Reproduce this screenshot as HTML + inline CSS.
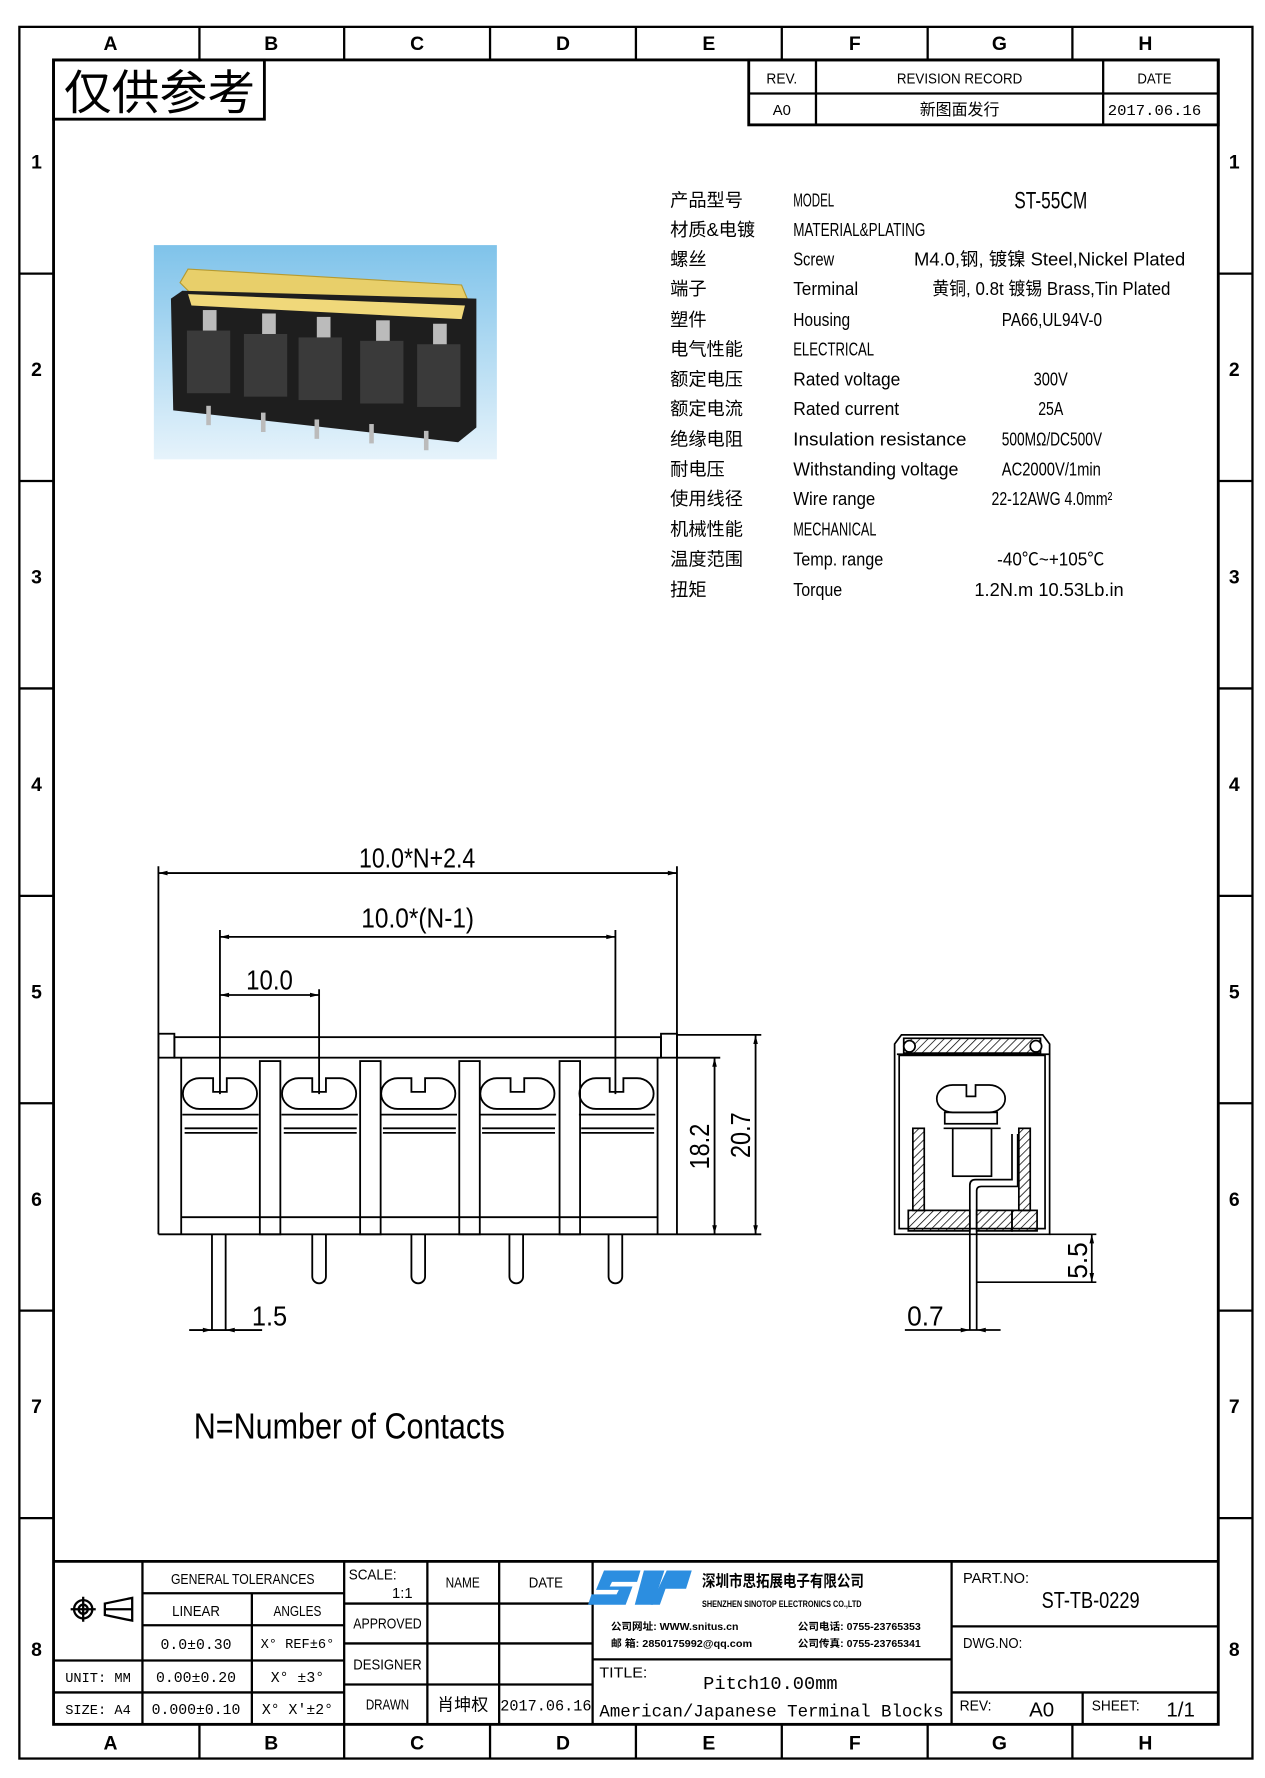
<!DOCTYPE html>
<html><head><meta charset="utf-8"><style>
html,body{margin:0;padding:0;background:#fff;}
svg{display:block;}
text{font-family:"Liberation Sans Narrow","Liberation Sans","Noto Sans CJK SC",sans-serif;fill:#000;}
.m{font-family:"Liberation Mono","Noto Sans CJK SC",monospace;}
.b{font-weight:bold;}
</style></head><body>
<svg width="1265" height="1778" viewBox="0 0 1110 1560" xmlns="http://www.w3.org/2000/svg">
<defs>
<pattern id="h" width="5" height="5" patternUnits="userSpaceOnUse" patternTransform="rotate(45)"><line x1="0" y1="0" x2="0" y2="5" stroke="#000" stroke-width="1.3"/></pattern>
<linearGradient id="bg" x1="0" y1="0" x2="0" y2="1"><stop offset="0" stop-color="#7fc3ea"/><stop offset="1" stop-color="#e6f3fb"/></linearGradient>
</defs>
<g fill="none" stroke="#000">
<rect x="17" y="23.5" width="1082" height="1519.5" stroke-width="2"/>
<rect x="47" y="52.5" width="1022" height="1460.5" stroke-width="2.5"/>
<g stroke-width="2">
<line x1="175" y1="23.5" x2="175" y2="52.5"/><line x1="302" y1="23.5" x2="302" y2="52.5"/><line x1="430" y1="23.5" x2="430" y2="52.5"/><line x1="558" y1="23.5" x2="558" y2="52.5"/><line x1="686" y1="23.5" x2="686" y2="52.5"/><line x1="814" y1="23.5" x2="814" y2="52.5"/><line x1="941" y1="23.5" x2="941" y2="52.5"/>
<line x1="175" y1="1513" x2="175" y2="1543"/><line x1="302" y1="1513" x2="302" y2="1543"/><line x1="430" y1="1513" x2="430" y2="1543"/><line x1="558" y1="1513" x2="558" y2="1543"/><line x1="686" y1="1513" x2="686" y2="1543"/><line x1="814" y1="1513" x2="814" y2="1543"/><line x1="941" y1="1513" x2="941" y2="1543"/>
<line x1="17" y1="240" x2="47" y2="240"/><line x1="17" y1="422" x2="47" y2="422"/><line x1="17" y1="604" x2="47" y2="604"/><line x1="17" y1="786" x2="47" y2="786"/><line x1="17" y1="968" x2="47" y2="968"/><line x1="17" y1="1150" x2="47" y2="1150"/><line x1="17" y1="1332" x2="47" y2="1332"/>
<line x1="1069" y1="240" x2="1099" y2="240"/><line x1="1069" y1="422" x2="1099" y2="422"/><line x1="1069" y1="604" x2="1099" y2="604"/><line x1="1069" y1="786" x2="1099" y2="786"/><line x1="1069" y1="968" x2="1099" y2="968"/><line x1="1069" y1="1150" x2="1099" y2="1150"/><line x1="1069" y1="1332" x2="1099" y2="1332"/>
</g>
<rect x="47" y="52.5" width="185" height="52" stroke-width="2.5"/>
<rect x="657" y="52.5" width="412" height="57" stroke-width="2.5"/>
<line x1="657" y1="82" x2="1069" y2="82" stroke-width="2"/>
<line x1="716" y1="52.5" x2="716" y2="109.5" stroke-width="2"/>
<line x1="968" y1="52.5" x2="968" y2="109.5" stroke-width="2"/>
</g>
<g class="b" font-size="17" text-anchor="middle">
<text x="97" y="44">A</text><text x="238" y="44">B</text><text x="366" y="44">C</text><text x="494" y="44">D</text><text x="622" y="44">E</text><text x="750" y="44">F</text><text x="877" y="44">G</text><text x="1005" y="44">H</text>
<text x="97" y="1535">A</text><text x="238" y="1535">B</text><text x="366" y="1535">C</text><text x="494" y="1535">D</text><text x="622" y="1535">E</text><text x="750" y="1535">F</text><text x="877" y="1535">G</text><text x="1005" y="1535">H</text>
<text x="32" y="148">1</text><text x="32" y="330">2</text><text x="32" y="512">3</text><text x="32" y="694">4</text><text x="32" y="876">5</text><text x="32" y="1058">6</text><text x="32" y="1240">7</text><text x="32" y="1453">8</text>
<text x="1083" y="148">1</text><text x="1083" y="330">2</text><text x="1083" y="512">3</text><text x="1083" y="694">4</text><text x="1083" y="876">5</text><text x="1083" y="1058">6</text><text x="1083" y="1240">7</text><text x="1083" y="1453">8</text>
</g>
<text x="140" y="96" font-size="42" text-anchor="middle" style="font-family:'Noto Sans CJK SC',sans-serif">仅供参考</text>
<g font-size="13" text-anchor="middle">
<text x="686" y="73" textLength="27" lengthAdjust="spacingAndGlyphs">REV.</text><text x="842" y="73" textLength="110" lengthAdjust="spacingAndGlyphs">REVISION RECORD</text><text x="1013" y="73" textLength="30" lengthAdjust="spacingAndGlyphs">DATE</text>
<text x="686" y="101">A0</text><text x="842" y="101" font-size="14">新图面发行</text><text x="1013" y="101" class="m" font-size="13" textLength="82" lengthAdjust="spacingAndGlyphs">2017.06.16</text>
</g>
<!-- photo -->
<rect x="135" y="215" width="301" height="188" fill="url(#bg)"/>
<path d="M158 248 L165 236 L405 250 L410 262 L168 258 Z" fill="#e8cf6a" stroke="#b59a30"/>
<path d="M150 262 L160 255 L418 262 L418 375 L402 388 L152 360 Z" fill="#1e1e1e"/>
<path d="M165 258 L408 268 L405 280 L168 268 Z" fill="#f0d87a"/>
<g fill="#3a3a3a"><rect x="164" y="290" width="38" height="55"/><rect x="214" y="293" width="38" height="55"/><rect x="262" y="296" width="38" height="55"/><rect x="316" y="299" width="38" height="55"/><rect x="366" y="302" width="38" height="55"/></g>
<g fill="#bbb"><rect x="178" y="272" width="12" height="18"/><rect x="230" y="275" width="12" height="18"/><rect x="278" y="278" width="12" height="18"/><rect x="330" y="281" width="12" height="18"/><rect x="380" y="284" width="12" height="18"/>
<rect x="181" y="356" width="4" height="17"/><rect x="229" y="362" width="4" height="17"/><rect x="276" y="368" width="4" height="17"/><rect x="324" y="372" width="4" height="17"/><rect x="372" y="378" width="4" height="17"/></g>
<!-- spec -->
<g font-size="16" lengthAdjust="spacingAndGlyphs">
<g style="font-family:'Noto Sans CJK SC',sans-serif" font-size="16">
<text x="588" y="181">产品型号</text><text x="588" y="207">材质&amp;电镀</text><text x="588" y="233">螺丝</text><text x="588" y="259">端子</text><text x="588" y="286">塑件</text><text x="588" y="312">电气性能</text><text x="588" y="338">额定电压</text><text x="588" y="364">额定电流</text><text x="588" y="391">绝缘电阻</text><text x="588" y="417">耐电压</text><text x="588" y="443">使用线径</text><text x="588" y="470">机械性能</text><text x="588" y="496">温度范围</text><text x="588" y="523">扭矩</text>
</g>
<text x="696" y="181" textLength="36" lengthAdjust="spacingAndGlyphs">MODEL</text>
<text x="696" y="207" textLength="116" lengthAdjust="spacingAndGlyphs">MATERIAL&amp;PLATING</text>
<text x="696" y="233" textLength="36" lengthAdjust="spacingAndGlyphs">Screw</text>
<text x="696" y="259" textLength="57" lengthAdjust="spacingAndGlyphs">Terminal</text>
<text x="696" y="286" textLength="50" lengthAdjust="spacingAndGlyphs">Housing</text>
<text x="696" y="312" textLength="71" lengthAdjust="spacingAndGlyphs">ELECTRICAL</text>
<text x="696" y="338" textLength="94" lengthAdjust="spacingAndGlyphs">Rated voltage</text>
<text x="696" y="364" textLength="93" lengthAdjust="spacingAndGlyphs">Rated current</text>
<text x="696" y="391" textLength="152" lengthAdjust="spacingAndGlyphs">Insulation resistance</text>
<text x="696" y="417" textLength="145" lengthAdjust="spacingAndGlyphs">Withstanding voltage</text>
<text x="696" y="443" textLength="72" lengthAdjust="spacingAndGlyphs">Wire range</text>
<text x="696" y="470" textLength="73" lengthAdjust="spacingAndGlyphs">MECHANICAL</text>
<text x="696" y="496" textLength="79" lengthAdjust="spacingAndGlyphs">Temp. range</text>
<text x="696" y="523" textLength="43" lengthAdjust="spacingAndGlyphs">Torque</text>
<text x="890" y="183" font-size="21" textLength="64" lengthAdjust="spacingAndGlyphs">ST-55CM</text>
<text x="802" y="233" textLength="238" lengthAdjust="spacingAndGlyphs">M4.0,钢, 镀镍 Steel,Nickel Plated</text>
<text x="818" y="259" textLength="209" lengthAdjust="spacingAndGlyphs">黄铜, 0.8t 镀锡 Brass,Tin Plated</text>
<text x="879" y="286" textLength="88" lengthAdjust="spacingAndGlyphs">PA66,UL94V-0</text>
<text x="907" y="338" textLength="30" lengthAdjust="spacingAndGlyphs">300V</text>
<text x="911" y="364" textLength="22" lengthAdjust="spacingAndGlyphs">25A</text>
<text x="879" y="391" textLength="88" lengthAdjust="spacingAndGlyphs">500MΩ/DC500V</text>
<text x="879" y="417" textLength="87" lengthAdjust="spacingAndGlyphs">AC2000V/1min</text>
<text x="870" y="443" textLength="106" lengthAdjust="spacingAndGlyphs">22-12AWG 4.0mm²</text>
<text x="875" y="496" textLength="94" lengthAdjust="spacingAndGlyphs">-40℃~+105℃</text>
<text x="855" y="523" textLength="131" lengthAdjust="spacingAndGlyphs">1.2N.m  10.53Lb.in</text>
</g>
<!-- front view -->
<g fill="none" stroke="#000" stroke-width="1.6">
<line x1="139" y1="760" x2="139" y2="1083"/><line x1="594" y1="760" x2="594" y2="1083"/>
<line x1="139" y1="766" x2="594" y2="766"/>
<line x1="193" y1="816" x2="193" y2="960"/><line x1="540" y1="816" x2="540" y2="960"/>
<line x1="193" y1="822" x2="540" y2="822"/>
<line x1="280" y1="868" x2="280" y2="960"/><line x1="193" y1="873" x2="280" y2="873"/>
<rect x="153" y="910" width="427" height="18"/>
<rect x="139" y="907" width="14" height="21"/><rect x="580" y="907" width="14" height="21"/>
<line x1="139" y1="1083" x2="594" y2="1083"/>
<line x1="159" y1="1068" x2="577" y2="1068"/>
<path d="M159 928 V1083 M577 928 V1083"/>
<rect x="228" y="931" width="18" height="152"/><rect x="316" y="931" width="18" height="152"/><rect x="403" y="931" width="18" height="152"/><rect x="491" y="931" width="18" height="152"/>
<g id="cell">
<path d="M175 946 h12 v12 h12 v-12 h12 a14 13 0 0 1 0 27 h-36 a14 13 0 0 1 0 -27 z"/>
<line x1="160" y1="978" x2="227" y2="978"/><line x1="162" y1="990" x2="226" y2="990"/>
<line x1="162" y1="994" x2="226" y2="994"/>
</g>
<use href="#cell" x="87"/><use href="#cell" x="174"/><use href="#cell" x="261"/><use href="#cell" x="348"/>
<path d="M186 1083 V1167 M198 1083 V1167"/>
<path d="M274 1083 V1120 a6 6 0 0 0 12 0 V1083"/><path d="M361 1083 V1120 a6 6 0 0 0 12 0 V1083"/><path d="M447 1083 V1120 a6 6 0 0 0 12 0 V1083"/><path d="M534 1083 V1120 a6 6 0 0 0 12 0 V1083"/>
<line x1="166" y1="1167" x2="230" y2="1167"/>
<line x1="594" y1="908" x2="668" y2="908"/><line x1="594" y1="928" x2="632" y2="928"/><line x1="594" y1="1083" x2="668" y2="1083"/>
<line x1="627" y1="928" x2="627" y2="1083"/><line x1="663" y1="908" x2="663" y2="1083"/>
</g>
<g fill="#000">
<path d="M139 766 l8 -2 v4z M594 766 l-8 -2 v4z M193 822 l8 -2 v4z M540 822 l-8 -2 v4z M193 873 l8 -2 v4z M280 873 l-8 -2 v4z"/>
<path d="M627 928 l-2 8 h4z M627 1083 l-2 -8 h4z M663 908 l-2 8 h4z M663 1083 l-2 -8 h4z"/>
<path d="M186 1167 l-8 -2 v4z M198 1167 l8 -2 v4z"/>
</g>
<g font-size="24">
<text x="315" y="761" textLength="102" lengthAdjust="spacingAndGlyphs">10.0*N+2.4</text>
<text x="317" y="814" textLength="99" lengthAdjust="spacingAndGlyphs">10.0*(N-1)</text>
<text x="216" y="868" textLength="41" lengthAdjust="spacingAndGlyphs">10.0</text>
<text x="221" y="1163" textLength="31" lengthAdjust="spacingAndGlyphs">1.5</text>
<text x="796" y="1163" textLength="32" lengthAdjust="spacingAndGlyphs">0.7</text>
<text x="622" y="1026" transform="rotate(-90 622 1026)" textLength="40" lengthAdjust="spacingAndGlyphs">18.2</text>
<text x="658" y="1016" transform="rotate(-90 658 1016)" textLength="40" lengthAdjust="spacingAndGlyphs">20.7</text>
<text x="954" y="1122" transform="rotate(-90 954 1122)" textLength="32" lengthAdjust="spacingAndGlyphs">5.5</text>
</g>
<text x="170" y="1262" font-size="32" textLength="273" lengthAdjust="spacingAndGlyphs">N=Number of Contacts</text>
<!-- side view -->
<g fill="none" stroke="#000" stroke-width="1.5">
<path d="M785 1083 V916 l6 -8 h124 l6 8 V1083 Z"/>
<rect x="789" y="926" width="128" height="152"/>
<path d="M787 925 h134" />
<rect x="793" y="911" width="120" height="13" fill="url(#h)"/>
<circle cx="798" cy="918" r="5" fill="#fff"/><circle cx="909" cy="918" r="5" fill="#fff"/>
<path d="M836 952 h12 v10 h8 v-10 h12 a14 12 0 0 1 0 24 h-32 a14 12 0 0 1 0 -24 z"/>
<rect x="829" y="976" width="46" height="10"/>
<rect x="801" y="990" width="10" height="72" fill="url(#h)"/><rect x="894" y="990" width="10" height="72" fill="url(#h)"/>
<rect x="797" y="1062" width="54" height="18" fill="url(#h)"/><rect x="857" y="1062" width="31" height="18" fill="url(#h)"/><rect x="888" y="1062" width="22" height="18" fill="url(#h)"/>
<rect x="836" y="990" width="34" height="42"/><path d="M828 990 h50"/>
<path d="M851 1167 V1040 q0 -5 5 -5 h32 v-40 M857 1167 V1045 q0 -4 4 -4 h32 v-46"/>
<line x1="921" y1="1083" x2="962" y2="1083"/><line x1="857" y1="1125" x2="962" y2="1125"/>
<line x1="958" y1="1083" x2="958" y2="1125"/>
<line x1="794" y1="1167" x2="878" y2="1167"/>
</g>
<path d="M958 1083 l-2 8 h4z M958 1125 l-2 -8 h4z M851 1167 l-8 -2 v4z M857 1167 l8 -2 v4z" fill="#000"/>
<!-- title block -->
<g fill="none" stroke="#000" stroke-width="2">
<line x1="47" y1="1370" x2="1069" y2="1370" stroke-width="2.5"/>
<line x1="125" y1="1370" x2="125" y2="1513"/><line x1="302" y1="1370" x2="302" y2="1513"/><line x1="375" y1="1370" x2="375" y2="1513"/><line x1="438" y1="1370" x2="438" y2="1513"/><line x1="520" y1="1370" x2="520" y2="1513"/><line x1="835" y1="1370" x2="835" y2="1513"/>
<line x1="125" y1="1398" x2="302" y2="1398"/><line x1="125" y1="1426" x2="302" y2="1426"/><line x1="47" y1="1457" x2="302" y2="1457"/><line x1="47" y1="1485" x2="302" y2="1485"/>
<line x1="221" y1="1398" x2="221" y2="1513"/>
<line x1="302" y1="1407" x2="520" y2="1407"/><line x1="302" y1="1442" x2="520" y2="1442"/><line x1="302" y1="1478" x2="520" y2="1478"/>
<line x1="520" y1="1456" x2="835" y2="1456"/>
<line x1="835" y1="1427" x2="1069" y2="1427"/><line x1="835" y1="1485" x2="1069" y2="1485"/><line x1="950" y1="1485" x2="950" y2="1513"/>
<circle cx="73" cy="1412" r="8"/><circle cx="73" cy="1412" r="4"/><path d="M62 1412 h22 M73 1401 v22"/>
<path d="M92 1407 l24 -5 v20 l-24 -5 z M92 1412 h24"/>
</g>
<g font-size="13" text-anchor="middle">
<text x="213" y="1390" textLength="126" lengthAdjust="spacingAndGlyphs">GENERAL TOLERANCES</text>
<text x="172" y="1418" textLength="42" lengthAdjust="spacingAndGlyphs">LINEAR</text><text x="261" y="1418" textLength="42" lengthAdjust="spacingAndGlyphs">ANGLES</text>
<text x="172" y="1447" class="m">0.0±0.30</text><text x="261" y="1446" class="m" font-size="12">X° REF±6°</text>
<text x="86" y="1476" class="m" font-size="12">UNIT: MM</text><text x="172" y="1476" class="m">0.00±0.20</text><text x="261" y="1476" class="m">X° ±3°</text>
<text x="86" y="1504" class="m" font-size="12">SIZE: A4</text><text x="172" y="1504" class="m">0.000±0.10</text><text x="261" y="1504" class="m">X° X'±2°</text>
<text x="406" y="1393" textLength="30" lengthAdjust="spacingAndGlyphs">NAME</text><text x="479" y="1393" textLength="30" lengthAdjust="spacingAndGlyphs">DATE</text>
<text x="340" y="1429" textLength="60" lengthAdjust="spacingAndGlyphs">APPROVED</text><text x="340" y="1465" textLength="60" lengthAdjust="spacingAndGlyphs">DESIGNER</text><text x="340" y="1500" textLength="38" lengthAdjust="spacingAndGlyphs">DRAWN</text>
<text x="406" y="1501" font-size="15" style="font-family:'Noto Sans CJK SC',sans-serif">肖坤权</text>
<text x="479" y="1501" class="m" font-size="14" textLength="80" lengthAdjust="spacingAndGlyphs">2017.06.16</text>
</g>
<text x="306" y="1386" font-size="13" textLength="42" lengthAdjust="spacingAndGlyphs">SCALE:</text><text x="344" y="1402" font-size="13">1:1</text>
<g fill="#2c8ee0"><path d="M530 1378 h32 l-3 10 h-22 l-2 4 h20 l-6 16 h-33 l3 -9 h22 l2 -4 h-20 z"/><path d="M565 1378 h18 l-10 30 h-16 z"/><path d="M585 1378 h22 l-5 16 h-18 l-5 14 h-8 z"/></g>
<text x="616" y="1392" font-size="14" class="b" style="font-family:'Noto Sans CJK SC',sans-serif" textLength="142" lengthAdjust="spacingAndGlyphs">深圳市思拓展电子有限公司</text>
<text x="616" y="1410" font-size="8" class="b" textLength="140" lengthAdjust="spacingAndGlyphs">SHENZHEN SINOTOP ELECTRONICS CO.,LTD</text>
<text x="536" y="1430" font-size="9" class="b" textLength="112" lengthAdjust="spacingAndGlyphs">公司网址: WWW.snitus.cn</text><text x="536" y="1445" font-size="9" class="b" textLength="124" lengthAdjust="spacingAndGlyphs">邮    箱: 2850175992@qq.com</text>
<text x="700" y="1430" font-size="9" class="b" textLength="108" lengthAdjust="spacingAndGlyphs">公司电话: 0755-23765353</text><text x="700" y="1445" font-size="9" class="b" textLength="108" lengthAdjust="spacingAndGlyphs">公司传真: 0755-23765341</text>
<text x="526" y="1472" font-size="13" textLength="42" lengthAdjust="spacingAndGlyphs">TITLE:</text>
<text x="617" y="1482" font-size="16" class="m" textLength="118" lengthAdjust="spacingAndGlyphs">Pitch10.00mm</text>
<text x="526" y="1506" font-size="15" class="m" textLength="302" lengthAdjust="spacingAndGlyphs">American/Japanese Terminal Blocks</text>
<text x="845" y="1389" font-size="13" textLength="58" lengthAdjust="spacingAndGlyphs">PART.NO:</text>
<text x="914" y="1411" font-size="20" textLength="86" lengthAdjust="spacingAndGlyphs">ST-TB-0229</text>
<text x="845" y="1446" font-size="13" textLength="52" lengthAdjust="spacingAndGlyphs">DWG.NO:</text>
<text x="842" y="1501" font-size="13" textLength="28" lengthAdjust="spacingAndGlyphs">REV:</text><text x="914" y="1506" font-size="18" text-anchor="middle">A0</text>
<text x="958" y="1501" font-size="13" textLength="42" lengthAdjust="spacingAndGlyphs">SHEET:</text><text x="1036" y="1506" font-size="18" text-anchor="middle">1/1</text>
</svg>
</body></html>
